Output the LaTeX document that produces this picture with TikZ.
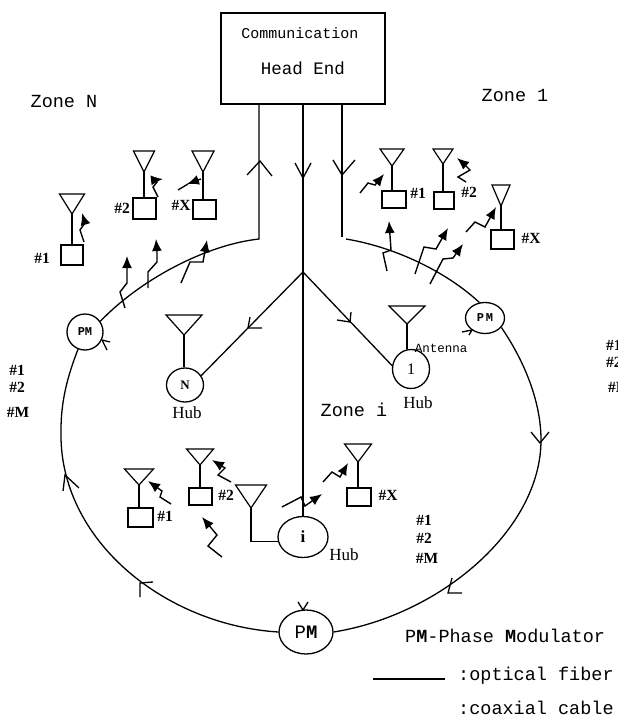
\documentclass[tikz,border=0pt]{standalone}
\usepackage{fontspec}
\setmainfont{Liberation Serif}
\setmonofont{Liberation Mono}
\usetikzlibrary{arrows.meta, positioning, shapes.geometric}
\tikzset{
  fiber/.style={line width=1.3pt, draw=black},
  aerial/.style={line width=1.2pt, draw=black, line join=miter},
  wave/.style={-{Latex[length=12pt, width=10pt]}, line width=1.4pt, draw=black},
  headbox/.style={rectangle, draw=black, line width=1.3pt, minimum width=164pt,
                  minimum height=91pt, inner sep=0pt},
  termbox/.style={rectangle, draw=black, line width=1.2pt, inner sep=0pt},
  hub/.style={ellipse, draw=black, line width=1.3pt, inner sep=0pt, fill=white,
              font=\ttfamily\fontsize{12}{12}\selectfont\bfseries},
  tag/.style={inner sep=0pt, font=\bfseries\fontsize{15.5}{15.5}\selectfont},
  small/.style={inner sep=0pt, font=\ttfamily\fontsize{12.5}{13}\selectfont},
  hubtag/.style={inner sep=0pt, font=\fontsize{17}{17}\selectfont},
  zone/.style={inner sep=0pt, font=\ttfamily\fontsize{18.5}{19}\selectfont},
}
\newcommand{\antenna}[5]{% name, apex x, apex y, half width, height
  \coordinate (#1) at (#2,#3);
  \draw[aerial] (#1) -- ++(-#4,-#5) -- ++(2*#4,0) -- cycle;}
\newcommand{\barb}[6]{% apex x, apex y, arm x, arm y, arm x, arm y
  \draw[fiber] (#3,#4) -- (#1,#2) -- (#5,#6);}

\begin{document}
\begin{tikzpicture}[x=1pt, y=-1pt]
  \useasboundingbox (0,0) rectangle (618,717);
  \clip (0,0) rectangle (618,717);

  % head end and the three feeds
  \node[headbox] (headend) at (303,58.5) {};
  \node[small, font=\ttfamily\fontsize{15}{15}\selectfont] (comm) at (300,33) {Communication};
  \node[small, font=\ttfamily\fontsize{17.5}{18}\selectfont] (head) at (303,68) {Head End};
  \coordinate (lbend) at (259,239);
  \coordinate (rstop) at (342,237);
  \coordinate (rbend) at (346,239);
  \coordinate (fork) at (303,272);
  \coordinate (reast) at (541,440);
  \coordinate (rwest) at (61,430);

  % modulators and hubs
  \node[hub, minimum width=36pt, minimum height=36pt] (pmn) at (85,332) {PM};
  \node[hub, minimum width=39pt, minimum height=31pt] (pmo) at (485,318) {P\,M};
  \node[hub, minimum width=54pt, minimum height=44pt,
        font=\ttfamily\fontsize{19}{19}\selectfont] (pmb) at (306,632) {P\textbf{M}};
  \node[hub, minimum width=37pt, minimum height=34pt,
        font=\bfseries\fontsize{13}{13}\selectfont] (hubn) at (185,385) {N};
  \node[hub, minimum width=37pt, minimum height=39pt,
        font=\fontsize{16}{16}\selectfont] (hubo) at (411,369) {1};
  \node[hub, minimum width=50pt, minimum height=41pt,
        font=\bfseries\fontsize{17}{17}\selectfont] (hubi) at (303,537) {i};

  % fiber
  \draw[fiber] (headend.south -| lbend) -- (lbend)
    .. controls (205,245) and (140,280) .. (pmn.35);
  \draw[fiber] (headend.south -| rstop) -- (rstop);
  \draw[fiber] (rbend) .. controls (400,248) and (450,275) .. (pmo.110);
  \draw[fiber] (pmo.-30) .. controls (527,365) and (541,405) .. (reast)
    .. controls (541,530) and (440,615) .. (pmb.east);
  \draw[fiber] (pmb.west) .. controls (165,625) and (58,540) .. (rwest)
    .. controls (61,400) and (68,375) .. (pmn.-112);
  \draw[fiber] (headend.south) -- (fork) -- (hubi.north);
  \draw[fiber] (fork) -- (hubn.30);
  \draw[fiber] (fork) -- (hubo.170);

  % direction marks
  \barb{260}{161}{247}{175}{272}{176}
  \barb{303}{178}{295}{163}{311}{163}
  \barb{342}{175}{333}{160}{355}{160}
  \barb{248}{328}{262}{328}{250}{317}
  \barb{350}{322}{337}{320}{351}{312}
  \barb{102}{340}{110}{342}{107}{350}
  \barb{472}{330}{462}{332}{469}{335}
  \barb{540}{443}{531}{432}{549}{432}
  \barb{448}{593}{452}{578}{462}{593}
  \barb{303}{610}{298}{602}{308}{602}
  \barb{140}{583}{153}{582}{140}{597}
  \barb{65}{475}{79}{488}{63}{491}

  % hub antennas
  \antenna{antn}{184}{335}{18}{20}
  \antenna{anto}{407}{324}{18}{18}
  \antenna{anti}{251}{508}{15.5}{23}
  \draw[aerial] (antn) -- (hubn.north -| antn);
  \draw[aerial] (anto) -- (hubo.north -| anto);
  \draw[aerial] (anti) |- (hubi.190);

  % zone N users
  \antenna{na}{72}{214}{12.5}{20}
  \antenna{nb}{144}{172}{10.5}{21}
  \antenna{nc}{203}{172}{11}{21}
  \node[termbox, minimum width=22pt, minimum height=20pt] (nua) at (72,255) {};
  \node[termbox, minimum width=23pt, minimum height=21pt] (nub) at (144.5,208.5) {};
  \node[termbox, minimum width=23pt, minimum height=19pt] (nuc) at (204.5,209.5) {};
  \draw[aerial] (na) -- (nua.north -| na);
  \draw[aerial] (nb) -- (nub.north -| nb);
  \draw[aerial] (nc) -- (nuc.north -| nc);

  % zone 1 users
  \antenna{oa}{392}{166}{12}{17}
  \antenna{ob}{443}{164}{10}{15}
  \antenna{oc}{501}{206}{9}{21}
  \node[termbox, minimum width=24pt, minimum height=17pt] (oua) at (394,199.5) {};
  \node[termbox, minimum width=20pt, minimum height=17pt] (oub) at (444,200.5) {};
  \node[termbox, minimum width=23pt, minimum height=19pt] (ouc) at (502.5,239.5) {};
  \draw[aerial] (oa) -- (oua.north -| oa);
  \draw[aerial] (ob) -- (oub.north -| ob);
  \draw[aerial] (oc) -- (ouc.north -| oc);

  % zone i users
  \antenna{ia}{139}{485}{14.5}{16}
  \antenna{ib}{200}{465}{13.5}{16}
  \antenna{ic}{358}{462}{13.5}{18}
  \node[termbox, minimum width=25pt, minimum height=19pt] (iua) at (140.5,517.5) {};
  \node[termbox, minimum width=23pt, minimum height=17pt] (iub) at (200.5,496.5) {};
  \node[termbox, minimum width=24pt, minimum height=18pt] (iuc) at (359,497) {};
  \draw[aerial] (ia) -- (iua.north -| ia);
  \draw[aerial] (ib) -- (iub.north -| ib);
  \draw[aerial] (ic) -- (iuc.north -| ic);

  % radio links, zone N
  \draw[wave] (84,242) -- (80,230) -- (85,223) -- (82,213);
  \draw[wave] (158,197) -- (153,187) -- (157,182) -- (154,180) -- (163,179);
  \draw[fiber] (178,190) -- (188,184);
  \draw[wave] (201,179) -- (187,184);
  \draw[wave] (125,308) -- (120,292) -- (127,283) -- (127,270) -- (127,256);
  \draw[wave] (148,288) -- (148,272) -- (157,262) -- (157,252) -- (156,239);
  \draw[wave] (181,283) -- (190,262) -- (203,262) -- (207,240);

  % radio links, zone 1
  \draw[wave] (360,193) -- (368,183) -- (375,185) -- (384,174);
  \draw[wave] (466,182) -- (458,177) -- (470,170) -- (463,163) -- (457,158);
  \draw[wave] (466,232) -- (475,222) -- (485,227) -- (496,207);
  \draw[wave] (387,271) -- (383,253) -- (391,250) -- (389,221);
  \draw[wave] (415,274) -- (424,247) -- (436,249) -- (448,228);
  \draw[wave] (430,284) -- (443,259) -- (453,258) -- (463,244);

  % radio links, zone i
  \draw[wave] (171,504) -- (160,497) -- (162,491) -- (148,481);
  \draw[wave] (231,482) -- (218,475) -- (225,468) -- (212,460);
  \draw[wave] (222,557) -- (208,546) -- (217,535) -- (202,517);
  \draw[wave] (282,507) -- (301,497) -- (305,506) -- (322,494);
  \draw[wave] (323,482) -- (332,472) -- (340,477) -- (348,463);

  % labels
  \node[zone] (zonen) at (64,101) {Zone N};
  \node[zone] (zoneo) at (515,95) {Zone 1};
  \node[zone] (zonei) at (354,410) {Zone i};
  \node[hubtag] (hubnl) at (187,413) {Hub};
  \node[hubtag] (hubol) at (418,403) {Hub};
  \node[hubtag] (hubil) at (344,555) {Hub};
  \node[small] (antl) at (441,348) {Antenna};

  \node[tag] (nta) at (42,258) {\#1};
  \node[tag] (ntb) at (122,208) {\#2};
  \node[tag] (ntc) at (181,205) {\#X};
  \node[tag] (ota) at (418,193) {\#1};
  \node[tag] (otb) at (469,192) {\#2};
  \node[tag] (otc) at (531,238) {\#X};
  \node[tag] (ita) at (165,516) {\#1};
  \node[tag] (itb) at (226,495) {\#2};
  \node[tag] (itc) at (388,495) {\#X};

  \node[tag] (lma) at (17,370) {\#1};
  \node[tag] (lmb) at (17,387) {\#2};
  \node[tag] (lmc) at (18,412) {\#M};
  \node[tag] (cma) at (424,520) {\#1};
  \node[tag] (cmb) at (424,538) {\#2};
  \node[tag] (cmc) at (427,558) {\#M};
  \node[tag, anchor=west] (rma) at (606,345) {\#1};
  \node[tag, anchor=west] (rmb) at (606,362) {\#2};
  \node[tag, anchor=west] (rmc) at (608,387) {\#M};

  % legend
  \node[zone, anchor=west] (legpm) at (405,636) {P\textbf{M}-Phase \textbf{M}odulator};
  \coordinate (lega) at (373,679);
  \coordinate (legb) at (445,679);
  \node[zone, anchor=west] (legopt) at (458,676) {:optical fiber};
  \draw[fiber] (lega) -- (legb);
  \node[zone, anchor=west] (legcoax) at (458,708) {:coaxial cable};
\end{tikzpicture}
\end{document}
